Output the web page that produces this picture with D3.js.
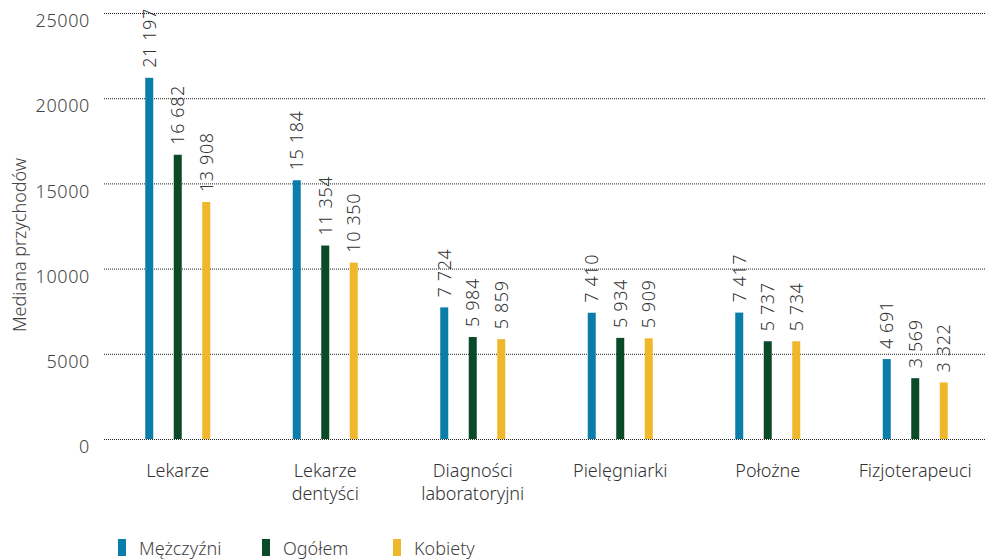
<!DOCTYPE html>
<html>
<head>
<meta charset="utf-8">
<script src="https://cdn.jsdelivr.net/npm/d3@7"></script>
<style>
  html, body { margin: 0; padding: 0; background: #fff; }
  svg { display: block; font-family: "Noto Sans", sans-serif; font-weight: 300; }
</style>
</head>
<body>
<svg id="chart" width="985" height="560"></svg>
<script>
// Median income by profession and gender
const categories = ["Lekarze", "Lekarze\ndentyści", "Diagności\nlaboratoryjni", "Pielęgniarki", "Położne", "Fizjoterapeuci"];
const seriesNames = ["Mężczyźni", "Ogółem", "Kobiety"];
const men    = [21197, 15184, 7724, 7410, 7417, 4691];
const total  = [16682, 11354, 5984, 5934, 5737, 3569];
const women  = [13908, 10350, 5859, 5909, 5734, 3322];
const yTicks = [0, 5000, 10000, 15000, 20000, 25000];
const colors = ["#0a7da8", "#0b4a27", "#efb82b"];
const yTitle = "Mediana przychodów";

const seriesValues = [men, total, women];

const svg = d3.select("#chart");
const plot = { left: 104, right: 989, top: 13, bottom: 439 };
const textColor = "#444";

const x = d3.scaleBand().domain(categories).range([plot.left, plot.right]).padding(0);
const inner = d3.scalePoint().domain(seriesNames).range([-28.5, 28.5]);
const y = d3.scaleLinear().domain([0, 25000]).range([plot.bottom, plot.top]);

// Dotted gridlines
svg.append("g").selectAll("line").data(yTicks).join("line")
  .attr("x1", plot.left).attr("x2", 985)
  .attr("y1", d => y(d) + 0.5).attr("y2", d => y(d) + 0.5)
  .attr("stroke", "#222").attr("stroke-width", 1)
  .attr("stroke-dasharray", "1,1");

// Y axis tick labels
const yAxis = d3.axisLeft(y).tickValues(yTicks).tickSize(0).tickPadding(0).tickFormat(d3.format("d"));
const gy = svg.append("g").attr("transform", `translate(90,8)`).call(yAxis);
gy.select(".domain").remove();
gy.selectAll("text").attr("font-size", 18).attr("fill", textColor)
  .attr("font-family", "Noto Sans, sans-serif").attr("font-weight", 300).attr("letter-spacing", 0.6);

// Y axis title
svg.append("text")
  .attr("transform", "translate(26,245) rotate(-90)")
  .attr("text-anchor", "middle")
  .attr("font-size", 18).attr("fill", textColor)
  .text(yTitle);

// Bars
const rows = categories.map((c, i) => seriesNames.map((s, j) => ({ c, s, j, v: seriesValues[j][i] })));
const groups = svg.append("g").selectAll("g").data(rows).join("g")
  .attr("transform", d => `translate(${x(d[0].c) + x.bandwidth() / 2},0)`);

groups.selectAll("rect").data(d => d).join("rect")
  .attr("x", d => inner(d.s) - 4)
  .attr("width", 8)
  .attr("y", d => y(d.v))
  .attr("height", d => y(0) - y(d.v))
  .attr("fill", d => colors[d.j]);

// Value labels, rotated
const fmt = v => d3.format(",")(v).replace(/,/g, " ");
groups.selectAll("text.val").data(d => d).join("text")
  .attr("class", "val")
  .attr("transform", d => `translate(${inner(d.s) + 6.5},${y(d.v) - 10}) rotate(-90)`)
  .attr("font-size", 18).attr("fill", "#333").attr("letter-spacing", 0.6)
  .text(d => fmt(d.v));

// Category labels
const xl = svg.append("g").selectAll("text").data(categories).join("text")
  .attr("x", d => x(d) + x.bandwidth() / 2)
  .attr("y", 477)
  .attr("text-anchor", "middle")
  .attr("font-size", 18).attr("fill", "#333");
xl.selectAll("tspan").data(d => d.split("\n")).join("tspan")
  .attr("x", function() { return d3.select(this.parentNode).attr("x"); })
  .attr("dy", (d, i) => i === 0 ? 0 : 23)
  .text(d => d);

// Legend
const legendX = [118, 262, 393];
const lg = svg.append("g").selectAll("g").data(seriesNames).join("g")
  .attr("transform", (d, i) => `translate(${legendX[i]},539)`);
lg.append("rect").attr("width", 8).attr("height", 17).attr("fill", (d, i) => colors[i]);
lg.append("text").attr("x", 21).attr("y", 16).attr("font-size", 18).attr("fill", textColor).text(d => d);
</script>
</body>
</html>
